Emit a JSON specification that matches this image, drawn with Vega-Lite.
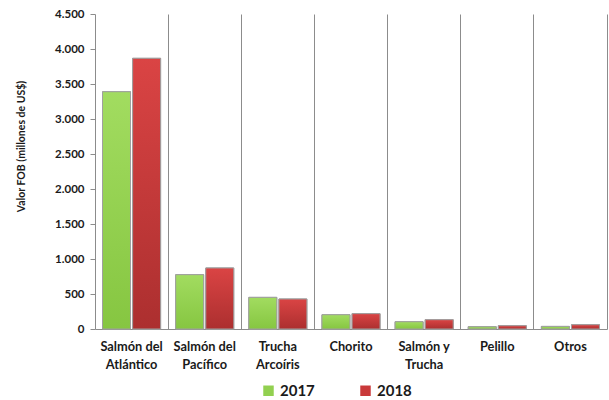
{
  "$schema": "https://vega.github.io/schema/vega-lite/v6.json",
  "autosize": "none",
  "width": 512,
  "height": 315,
  "padding": {"left": 95, "top": 14, "right": 2, "bottom": 71},
  "background": "white",
  "config": {
    "font": "Lato",
    "view": {"stroke": null}
  },
  "data": {
    "values": [
      {"especie": "Salmón del|Atlántico", "anio": "2017", "valor": 3390},
      {"especie": "Salmón del|Atlántico", "anio": "2018", "valor": 3867},
      {"especie": "Salmón del|Pacífico", "anio": "2017", "valor": 776},
      {"especie": "Salmón del|Pacífico", "anio": "2018", "valor": 872},
      {"especie": "Trucha|Arcoíris", "anio": "2017", "valor": 452},
      {"especie": "Trucha|Arcoíris", "anio": "2018", "valor": 429},
      {"especie": "Chorito", "anio": "2017", "valor": 204},
      {"especie": "Chorito", "anio": "2018", "valor": 219},
      {"especie": "Salmón y|Trucha", "anio": "2017", "valor": 104},
      {"especie": "Salmón y|Trucha", "anio": "2018", "valor": 133},
      {"especie": "Pelillo", "anio": "2017", "valor": 33},
      {"especie": "Pelillo", "anio": "2018", "valor": 47},
      {"especie": "Otros", "anio": "2017", "valor": 37},
      {"especie": "Otros", "anio": "2018", "valor": 61}
    ]
  },
  "encoding": {
    "x": {
      "field": "especie",
      "type": "nominal",
      "sort": null,
      "scale": {"paddingInner": 0, "paddingOuter": 0},
      "axis": {
        "title": null,
        "labelAngle": 0,
        "labelExpr": "split(datum.value, '|')",
        "labelFont": "Lato",
        "labelFontWeight": "bold",
        "labelFontSize": 12.8,
        "labelColor": "#1a1a1a",
        "labelPadding": 11,
        "labelLineHeight": 18,
        "ticks": false,
        "grid": true,
        "bandPosition": 1,
        "gridColor": "#8c8c8c",
        "gridWidth": 1,
        "domainColor": "#8c8c8c",
        "domainWidth": 1
      }
    },
    "xOffset": {
      "field": "anio",
      "type": "nominal",
      "scale": {"paddingInner": 0.07, "paddingOuter": 0.25}
    },
    "y": {
      "field": "valor",
      "type": "quantitative",
      "scale": {"domain": [0, 4500], "nice": false},
      "axis": {
        "title": "Valor FOB (millones de US$)",
        "titleFont": "Lato",
        "titleFontWeight": "bold",
        "titleFontSize": 10.5,
        "titleColor": "#1a1a1a",
        "titleAngle": -90,
        "titleBaseline": "middle",
        "titleX": -74,
        "titleY": 132,
        "values": [0, 500, 1000, 1500, 2000, 2500, 3000, 3500, 4000, 4500],
        "labelExpr": "replace(format(datum.value, ','), ',', '.')",
        "labelFont": "Lato",
        "labelFontWeight": "bold",
        "labelFontSize": 11.5,
        "labelColor": "#1a1a1a",
        "labelPadding": 6,
        "tickSize": 5,
        "tickColor": "#8c8c8c",
        "domainColor": "#8c8c8c",
        "grid": false
      }
    }
  },
  "layer": [
    {
      "mark": {"type": "bar", "stroke": "#9a9a9a", "strokeWidth": 1},
      "encoding": {
        "color": {
          "field": "anio",
          "type": "nominal",
          "scale": {"domain": ["2017", "2018"], "range": ["#92D050", "#C9393A"]},
          "legend": {
            "title": null,
            "orient": "none",
            "direction": "horizontal",
            "legendX": 166,
            "legendY": 369,
            "symbolType": "square",
            "symbolSize": 110,
            "symbolStrokeWidth": 0,
            "labelFont": "Lato",
            "labelFontWeight": "bold",
            "labelFontSize": 15,
            "labelColor": "#1a1a1a",
            "labelOffset": 4,
            "columnPadding": 43
          }
        }
      }
    },
    {
      "mark": {"type": "bar", "stroke": "#a0a0a0", "strokeWidth": 1},
      "encoding": {
        "fill": {
          "condition": {
            "test": "datum.anio == '2017'",
            "value": {
              "gradient": "linear",
              "x1": 0, "y1": 0, "x2": 0, "y2": 1,
              "stops": [
                {"offset": 0, "color": "#A2DC60"},
                {"offset": 1, "color": "#86C641"}
              ]
            }
          },
          "value": {
            "gradient": "linear",
            "x1": 0, "y1": 0, "x2": 0, "y2": 1,
            "stops": [
              {"offset": 0, "color": "#DA4444"},
              {"offset": 1, "color": "#AC2F2F"}
            ]
          }
        }
      }
    }
  ]
}
